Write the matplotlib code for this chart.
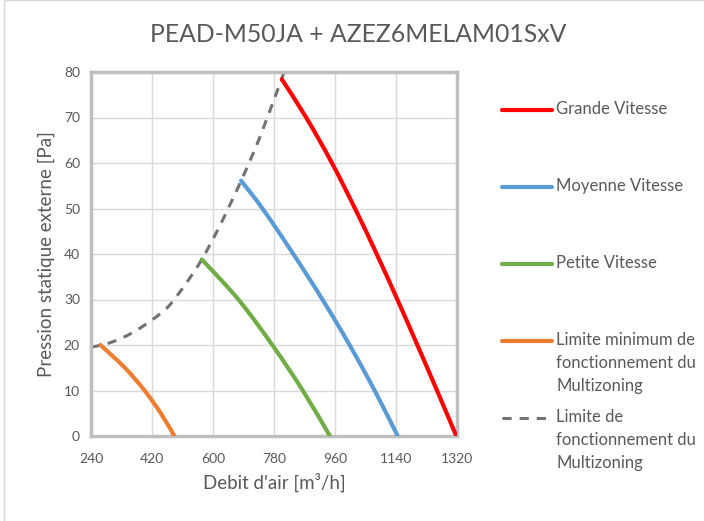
import numpy as np
import matplotlib
matplotlib.use("Agg")
import matplotlib.pyplot as plt
from matplotlib.lines import Line2D
from matplotlib.patches import Rectangle, PathPatch
from matplotlib.path import Path

plt.rcParams['font.family'] = ['Lato', 'DejaVu Sans']

# air flow [m3/h] and static pressure [Pa]
grande_x = [803, 875, 951, 1019, 1083, 1144, 1203, 1261, 1318]
grande_y = [78.4, 70, 60, 50, 40, 30, 20, 10, 0]
moyenne_x = [683, 746, 837, 923, 1003, 1077, 1145]
moyenne_y = [56.1, 50, 40, 30, 20, 10, 0]
petite_x = [567, 675, 775, 865, 945]
petite_y = [38.8, 30, 20, 10, 0]
minimum_x = [268, 340, 398, 446, 486]
minimum_y = [20, 15, 10, 5, 0]
limite_x = [240, 300, 360, 420, 470, 520, 567, 620, 683, 740, 810]
limite_y = [19.5, 20.6, 22.6, 25.5, 28.6, 33.5, 38.8, 46.2, 56.1, 66.0, 80]

labels = ["Grande Vitesse", "Moyenne Vitesse", "Petite Vitesse",
          "Limite minimum de\nfonctionnement du\nMultizoning",
          "Limite de\nfonctionnement du\nMultizoning"]
x_ticks = [240, 420, 600, 780, 960, 1140, 1320]
y_ticks = [0, 10, 20, 30, 40, 50, 60, 70, 80]

txt = "#595959"
colors = ["#FF0000", "#5B9BD5", "#70AD47", "#ED7D31", "#767171"]


def smooth_path(xs, ys):
    # Excel-like smoothed line: Catmull-Rom segments as cubic Beziers
    p = np.column_stack([xs, ys]).astype(float)
    verts = [p[0]]
    codes = [Path.MOVETO]
    n = len(p)
    for i in range(n - 1):
        p0 = p[i - 1] if i > 0 else p[i]
        p3 = p[i + 2] if i + 2 < n else p[i + 1]
        c1 = p[i] + (p[i + 1] - p0) / 6
        c2 = p[i + 1] - (p3 - p[i]) / 6
        verts += [c1, c2, p[i + 1]]
        codes += [Path.CURVE4] * 3
    return Path(verts, codes)


fig = plt.figure(figsize=(7.04, 5.21), dpi=100)
fig.add_artist(Rectangle((4 / 704, -0.1), 1.0, 1.1 - 0.5 / 521, transform=fig.transFigure,
                         fill=False, edgecolor="#D9D9D9", linewidth=1))
ax = fig.add_axes([91 / 704, 1 - 436 / 521, 366 / 704, 364 / 521])

ax.add_patch(PathPatch(smooth_path(limite_x, limite_y), fill=False, edgecolor=colors[4],
                       lw=2.2, ls=(0, (3, 2.6)), zorder=2))
for xs, ys, c in [(grande_x, grande_y, colors[0]), (moyenne_x, moyenne_y, colors[1]),
                  (petite_x, petite_y, colors[2]), (minimum_x, minimum_y, colors[3])]:
    ax.add_patch(PathPatch(smooth_path(xs, ys), fill=False, edgecolor=c, lw=3,
                           capstyle='round', joinstyle='round', zorder=3))

ax.set_xlim(240, 1320)
ax.set_ylim(0, 80)
ax.set_xticks(x_ticks)
ax.set_yticks(y_ticks)
ax.grid(True, color="#D9D9D9", lw=1)
ax.set_axisbelow(True)
for s in ax.spines.values():
    s.set_color("#BFBFBF")
    s.set_linewidth(2.5)
ax.tick_params(length=0, labelsize=10, labelcolor=txt, pad=8)
ax.tick_params(axis='x', pad=12)
ax.set_xlabel("Debit d'air [m³/h]", fontsize=13.5, color=txt, labelpad=6)
ax.set_ylabel("Pression statique externe [Pa]", fontsize=13.5, color=txt, labelpad=6)

fig.text(358 / 704, 1 - 35 / 521, "PEAD-M50JA + AZEZ6MELAM01SxV", fontsize=17.8,
         color=txt, ha='center', va='center')

# legend on the right
leg_y = [110, 187, 264, 341, 418]
for i in range(5):
    y = 1 - leg_y[i] / 521
    if i == 4:
        h = Line2D([502 / 704, 552 / 704], [y, y], transform=fig.transFigure,
                   color=colors[i], lw=2.2, ls=(0, (3, 2.6)))
    else:
        h = Line2D([502 / 704, 552 / 704], [y, y], transform=fig.transFigure,
                   color=colors[i], lw=3, solid_capstyle='round')
    fig.add_artist(h)
    fig.text(556 / 704, y + 9 / 521, labels[i], fontsize=12, color=txt,
             ha='left', va='top', linespacing=1.55)

fig.savefig("out.png", dpi=100)
